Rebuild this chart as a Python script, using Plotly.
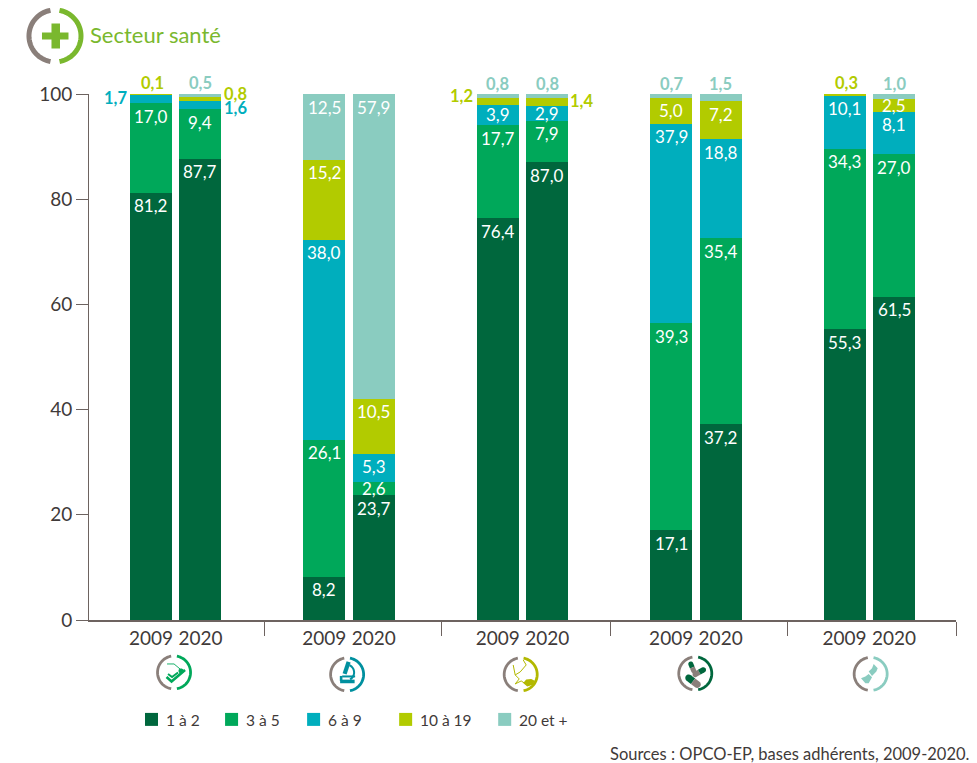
import math
import plotly.graph_objects as go

W, H = 977, 763
L, R, T, B = 89.0, 955.6, 93.5, 620.0

years = ["2009", "2020"]
series_names = ["1 à 2", "3 à 5", "6 à 9", "10 à 19", "20 et +"]
one_two = [81.2, 87.7, 8.2, 23.7, 76.4, 87.0, 17.1, 37.2, 55.3, 61.5]
three_five = [17.0, 9.4, 26.1, 2.6, 17.7, 7.9, 39.3, 35.4, 34.3, 27.0]
six_nine = [1.7, 1.6, 38.0, 5.3, 3.9, 2.9, 37.9, 18.8, 10.1, 8.1]
ten_nineteen = [0.1, 0.8, 15.2, 10.5, 1.2, 1.4, 5.0, 7.2, 0.3, 2.5]
twenty_plus = [0.0, 0.5, 12.5, 57.9, 0.8, 0.8, 0.7, 1.5, 0.0, 1.0]
series_values = [one_two, three_five, six_nine, ten_nineteen, twenty_plus]

colors = ["#00673d", "#00a85a", "#00aebd", "#b2cb00", "#8accc0"]
text_col = "#3f3a39"
axis_col = "#6d6360"
gray = "#8a7f7a"
green = "#7ab82e"
FONT = "Lato"

# Layout helpers (not data)
GROUP_OFFSET = 0.1427
BAR_W = 0.2424
xpos = []
for g in range(5):
    xpos += [g - GROUP_OFFSET, g + GROUP_OFFSET]
separators = [0.51, 1.535, 2.505, 3.528, 4.5]

# series index, bar index -> label placement outside the bar (dx, dy in px)
outside = {
    (2, 0): (-35, -3), (3, 0): (2, 11.5),
    (4, 1): (0, 11.5), (3, 1): (35, 3), (2, 1): (35, -7.5),
    (3, 4): (-36, 2), (4, 4): (0, 10),
    (4, 5): (0, 10), (3, 5): (34.6, -3),
    (4, 6): (0, 10), (4, 7): (0, 10),
    (3, 8): (2, 11.5), (4, 9): (0, 10),
}
outside_color = {2: "#00aebd", 3: "#b2cb00", 4: "#8accc0"}


def fx(px):
    return (px - L) / (R - L)


def fy(py):
    return (B - py) / (B - T)


def poly(points, close=False):
    s = "M" + " L".join(f"{fx(x):.5f},{fy(y):.5f}" for x, y in points)
    return s + (" Z" if close else "")


def arc(cx, cy, r, a0, a1, n=40):
    pts = []
    for i in range(n + 1):
        a = math.radians(a0 + (a1 - a0) * i / n)
        pts.append((cx + r * math.cos(a), cy - r * math.sin(a)))
    return pts


fig = go.Figure()
for name, vals, col in zip(series_names, series_values, colors):
    fig.add_trace(go.Bar(x=xpos, y=vals, name=name, width=BAR_W,
                         marker=dict(color=col, line=dict(width=0)),
                         cliponaxis=False, showlegend=False))

ann = []
shapes = []
px_per_unit = (B - T) / 100.0

for b in range(10):
    cum = 0.0
    for s, vals in enumerate(series_values):
        v = vals[b]
        cum += v
        if v == 0:
            continue
        top = min(cum, 100.0)
        label = f"{v:.1f}".replace(".", ",")
        if (s, b) in outside:
            dx, dy = outside[(s, b)]
            ann.append(dict(x=xpos[b], y=top, xref="x", yref="y", text=f"<b>{label}</b>",
                            showarrow=False, xshift=dx, yshift=dy, xanchor="center", yanchor="middle",
                            borderpad=0, font=dict(family=FONT, size=16.5, color=outside_color[s])))
        else:
            seg = v * px_per_unit
            shift = -min(13, seg / 2)
            ann.append(dict(x=xpos[b], y=top, xref="x", yref="y", text=label,
                            showarrow=False, yshift=shift, xanchor="center", yanchor="middle",
                            font=dict(family=FONT, size=17, color="white")))


def paper_text(x, y, text, size, color, anchor="left"):
    ann.append(dict(x=fx(x), y=fy(y), xref="paper", yref="paper", text=text, showarrow=False,
                    xanchor=anchor, yanchor="middle", font=dict(family=FONT, size=size, color=color)))


def stroke(pts, color, width, close=False, fill=None):
    shapes.append(dict(type="path", xref="paper", yref="paper", path=poly(pts, close),
                       line=dict(color=color, width=width), fillcolor=fill if fill else "rgba(0,0,0,0)"))


def solid(pts, color):
    shapes.append(dict(type="path", xref="paper", yref="paper", path=poly(pts, True),
                       line=dict(width=0), fillcolor=color))


def ring(cx, cy, r, col, width):
    stroke(arc(cx, cy, r, 100, 260), gray, width)
    stroke(arc(cx, cy, r, 80, -80), col, width)


def pill(x0, y0, x1, y1, w, col0, col1):
    """Two-tone capsule with rounded ends; (x0,y0)-(x1,y1) is its axis, in pixels."""
    mx, my = (x0 + x1) / 2, (y0 + y1) / 2
    ang = math.degrees(math.atan2(-(y1 - y0), x1 - x0))
    r = w / 2
    nx = -math.sin(math.radians(ang)) * r
    ny = -math.cos(math.radians(ang)) * r
    solid([(mx + nx, my + ny)] + arc(x0, y0, r, ang + 90, ang + 270, 10) + [(mx - nx, my - ny)], col0)
    solid([(mx - nx, my - ny)] + arc(x1, y1, r, ang - 90, ang + 90, 10) + [(mx + nx, my + ny)], col1)


# Logo
ring(55, 35.4, 26, green, 5)
solid([(51.5, 23), (60, 23), (60, 32), (68.5, 32), (68.5, 39), (60, 39), (60, 48), (51.5, 48),
       (51.5, 39), (42, 39), (42, 32), (51.5, 32)], green)
paper_text(88, 34, "Secteur santé", 22, green)

# Icons
ic = [(174, 672.5, colors[1]), (347, 674.5, "#00909f"), (520.5, 674.5, "#b2b800"),
      (695, 673.5, colors[0]), (870.3, 674, colors[4])]
for cx, cy, col in ic:
    ring(cx, cy, 16.5, col, 2.8)

# patient bed / check mark
c = ic[0][2]
stroke([(166.5, 677), (171.5, 681.5), (185, 670)], c, 2.6)
stroke([(168, 674), (172, 677), (178, 672.5)], c, 2)
stroke([(167, 664), (174, 664), (180, 669)], c, 0.9)
solid(arc(181, 671, 2.6, 0, 360, 14), c)

# microscope
c = ic[1][2]
stroke([(348.5, 662), (344.5, 674)], c, 4.2)
stroke(arc(346, 672.5, 8, 65, -60, 14), c, 2)
stroke([(340, 681.5), (354.5, 681.5)], c, 3.6)
stroke([(342, 676.5), (355, 676.5)], c, 2)
stroke([(341, 676), (341, 681)], c, 2.6)

# stethoscope with leaf
c = ic[2][2]
stroke([(513, 665), (515, 675), (520, 672), (526, 665), (523, 660)], c, 1)
stroke([(515, 675), (519, 679), (515, 684), (521, 681), (527, 685)], c, 1)
solid([(523, 683), (526, 679.5), (531, 679), (535, 681), (532, 685), (527, 686.5)], c)

# pills
c = ic[3][2]
pill(690.5, 664, 693.5, 671, 5, c, gray)
pill(695, 674.5, 703, 670, 5.5, gray, c)
pill(688.5, 678, 697, 684.5, 7, c, gray)

# cell-like figure
c = ic[4][2]
ox, oy = 840, 650
solid([(ox + x / 3, oy + y / 3) for x, y in
       [(100, 42), (112, 55), (108, 65), (95, 78), (85, 65), (95, 55)]], c)
solid([(ox + x / 3, oy + y / 3) for x, y in
       [(85, 72), (95, 82), (85, 100), (75, 100), (62, 85), (75, 80)]], c)

# Legend
leg_x = [145, 225, 307, 399, 498]
for x, name, col in zip(leg_x, series_names, colors):
    solid([(x, 713), (x + 13, 713), (x + 13, 726), (x, 726)], col)
    paper_text(x + 19, 720, name, 15.5, text_col)

paper_text(970.5, 754, "Sources : OPCO-EP, bases adhérents, 2009-2020.", 16.5, text_col, anchor="right")

fig.update_layout(
    width=W, height=H, autosize=False,
    margin=dict(l=L, r=W - R, t=T, b=H - B, pad=0),
    paper_bgcolor="white", plot_bgcolor="white",
    barmode="stack", bargap=0, showlegend=False,
    annotations=ann, shapes=shapes,
    font=dict(family=FONT, color=text_col),
    xaxis=dict(range=[-0.5, 4.5], tickmode="array", tickvals=xpos, ticktext=years * 5,
               ticks="", tickangle=0, showgrid=False, zeroline=False,
               showline=True, linecolor=axis_col, linewidth=1.5,
               tickfont=dict(family=FONT, size=19, color=text_col),
               minor=dict(tickmode="array", tickvals=separators, ticks="outside", ticklen=14,
                          tickcolor=axis_col, tickwidth=1, showgrid=False)),
    yaxis=dict(range=[0, 100], tickmode="array", tickvals=[0, 20, 40, 60, 80, 100],
               ticks="outside", ticklen=12, tickcolor=axis_col, tickwidth=1, showgrid=False,
               zeroline=False, showline=True, linecolor=axis_col, linewidth=1,
               tickfont=dict(family=FONT, size=19, color=text_col)),
)
fig.write_html("out.html", config={"displayModeBar": False},
               post_script="document.body.style.margin='0';document.body.style.overflow='hidden';")
